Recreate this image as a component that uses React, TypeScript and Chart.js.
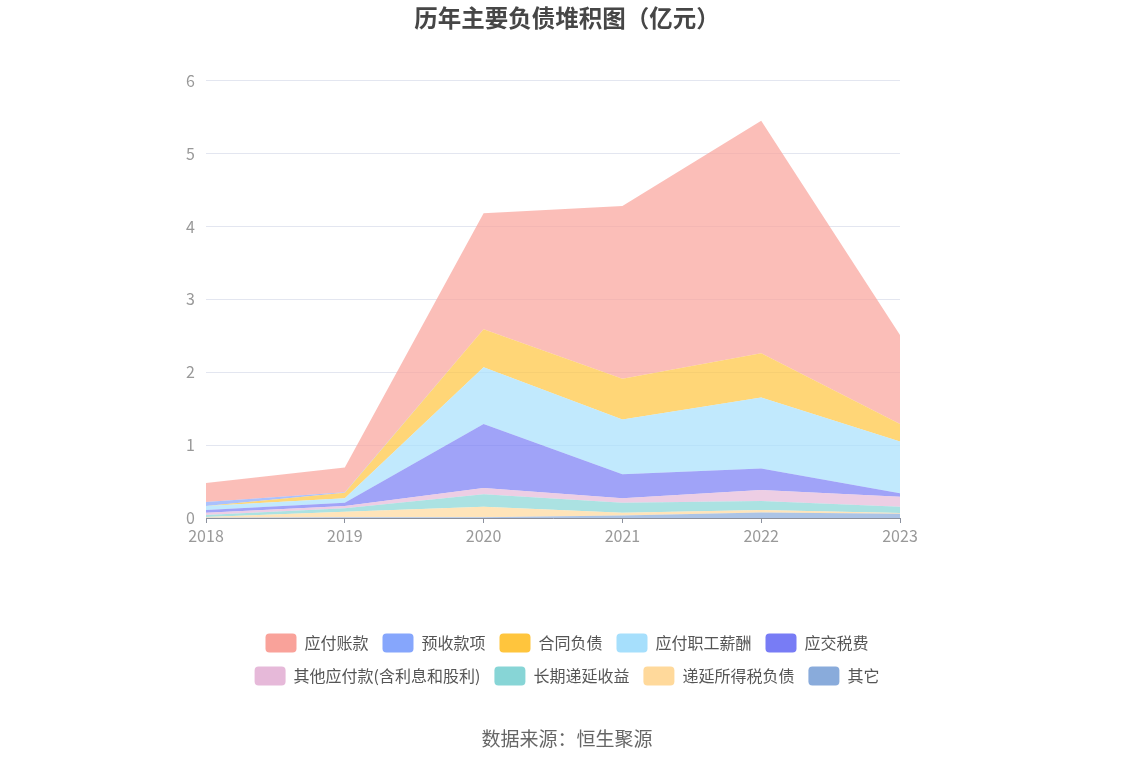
import React, { useEffect, useRef } from 'react';
import { Chart, registerables } from 'chart.js';

Chart.register(...registerables);

// Categories
const years = ['2018', '2019', '2020', '2021', '2022', '2023'];

// Series values (亿元), listed from the bottom of the stack to the top
const qiTa = [0.005, 0.01, 0.01, 0.035, 0.075, 0.06]; // 其它
const diYanSuoDeShui = [0.01, 0.076, 0.145, 0.038, 0.035, 0.01]; // 递延所得税负债
const changQiDiYan = [0.026, 0.047, 0.17, 0.137, 0.123, 0.085]; // 长期递延收益
const qiTaYingFu = [0.03, 0.032, 0.085, 0.06, 0.151, 0.135]; // 其他应付款(含利息和股利)
const yingJiaoShuiFei = [0.04, 0.045, 0.88, 0.33, 0.296, 0.05]; // 应交税费
const zhiGongXinChou = [0.055, 0.06, 0.78, 0.75, 0.975, 0.71]; // 应付职工薪酬
const heTongFuZhai = [0, 0.077, 0.52, 0.56, 0.605, 0.24]; // 合同负债
const yuShouKuanXiang = [0.055, 0.005, 0, 0, 0, 0]; // 预收款项
const yingFuZhangKuan = [0.26, 0.34, 1.59, 2.37, 3.19, 1.22]; // 应付账款

const seriesNames = [
  '其它',
  '递延所得税负债',
  '长期递延收益',
  '其他应付款(含利息和股利)',
  '应交税费',
  '应付职工薪酬',
  '合同负债',
  '预收款项',
  '应付账款',
];
const seriesValues = [
  qiTa,
  diYanSuoDeShui,
  changQiDiYan,
  qiTaYingFu,
  yingJiaoShuiFei,
  zhiGongXinChou,
  heTongFuZhai,
  yuShouKuanXiang,
  yingFuZhangKuan,
];
const seriesColors = [
  '#89abdb',
  '#ffd99b',
  '#87d5d6',
  '#e6b9d9',
  '#787cf5',
  '#a6dffc',
  '#ffc53d',
  '#86a6fc',
  '#f9a29a',
];

const yTicksMax = 6;
const titleText = '历年主要负债堆积图（亿元）';
const sourceText = '数据来源：恒生聚源';

const FONT = "'Noto Sans CJK SC', 'Noto Sans', sans-serif";
const AXIS_COLOR = '#8c919e';

export default function App() {
  const ref = useRef<HTMLCanvasElement>(null);

  useEffect(() => {
    if (!ref.current) return;
    const datasets = seriesNames.map((name, i) => ({
      label: name,
      data: seriesValues[i],
      backgroundColor: seriesColors[i] + 'b3',
      borderColor: 'rgba(0,0,0,0)',
      borderWidth: 0,
      pointRadius: 0,
      pointHoverRadius: 0,
      tension: 0,
      fill: i === 0 ? 'origin' : '-1',
    }));

    const defaultGen = (Chart.defaults.plugins.legend.labels as any).generateLabels;

    const chart = new Chart(ref.current, {
      type: 'line',
      data: { labels: years, datasets: datasets as any },
      options: {
        responsive: false,
        animation: false,
        layout: { padding: { left: 150, right: 150, top: 0, bottom: 0 } },
        scales: {
          x: {
            offset: false,
            grid: {
              drawOnChartArea: false,
              drawTicks: true,
              tickLength: 5,
              color: AXIS_COLOR,
            },
            border: { display: true, color: AXIS_COLOR, width: 1 },
            ticks: {
              color: '#999999',
              font: { size: 16, family: FONT },
              padding: 3,
              maxRotation: 0,
            },
            afterFit: (s: any) => {
              s.height = 101.5;
            },
          },
          y: {
            stacked: true,
            min: 0,
            max: yTicksMax,
            ticks: {
              stepSize: 1,
              color: '#999999',
              font: { size: 16, family: FONT },
              padding: 11,
            },
            grid: { color: '#e3e6f0', drawTicks: false, lineWidth: 1 },
            border: { display: false },
            afterFit: (s: any) => {
              s.width = 56;
            },
          },
          yRight: {
            type: 'linear',
            position: 'right',
            display: true,
            grid: { display: false },
            border: { display: false },
            ticks: { display: false },
            afterFit: (s: any) => {
              s.width = 84;
            },
          },
        } as any,
        plugins: {
          title: {
            display: true,
            text: titleText,
            color: '#464646',
            font: { size: 23.5, weight: 'bold', family: FONT },
            padding: { top: 4, bottom: 48.5 },
          },
          subtitle: {
            display: true,
            position: 'bottom',
            text: sourceText,
            color: '#666666',
            font: { size: 19, weight: 'normal', family: FONT },
            padding: { top: 32, bottom: 15.7 },
          },
          legend: {
            display: true,
            position: 'bottom',
            align: 'center',
            reverse: true,
            labels: {
              boxWidth: 31,
              boxHeight: 19,
              padding: 14,
              color: '#555555',
              font: { size: 16, family: FONT },
              useBorderRadius: true,
              borderRadius: 4,
              generateLabels: (c: any) =>
                defaultGen(c).map((item: any) => ({
                  ...item,
                  fillStyle: seriesColors[item.datasetIndex],
                  strokeStyle: seriesColors[item.datasetIndex],
                  lineWidth: 0,
                })),
            },
          } as any,
          tooltip: { enabled: false },
        },
      },
    });
    return () => chart.destroy();
  }, []);

  return (
    <div style={{ position: 'absolute', left: 0, top: 0, width: 1134, height: 766 }}>
      <canvas ref={ref} width={1134} height={766} style={{ display: 'block' }} />
    </div>
  );
}
